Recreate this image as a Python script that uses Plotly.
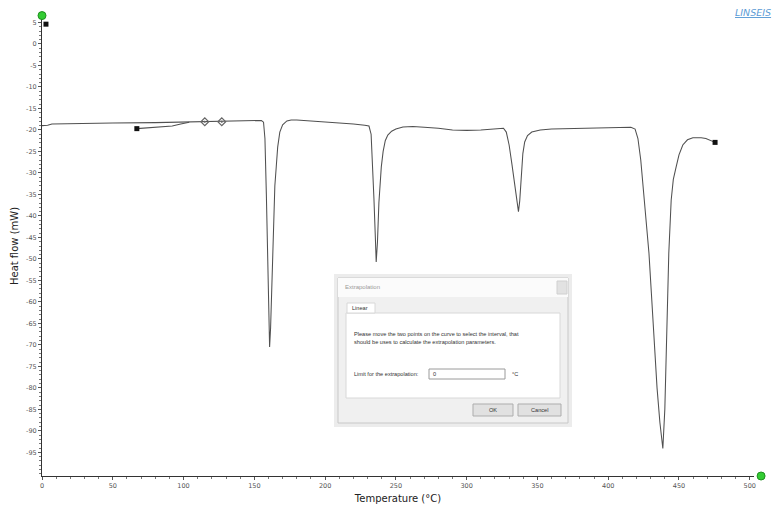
import plotly.graph_objects as go

# ---------------- data ----------------
temp = [0, 4, 7, 20, 50, 80, 100, 115, 127, 140, 155, 156.5, 157.5, 158.5, 159.5, 160.3, 160.8,
        161.5, 162.5, 163.5, 164.5, 165.5, 166.5, 168, 170, 173, 176, 180, 190, 200, 210, 220,
        228, 231, 232.5, 233.5, 234.5, 235.5, 236.1, 237, 238, 239.7, 241, 242.5, 244.3, 247,
        250, 255, 262, 270, 280, 290, 300, 310, 318, 324, 326, 328, 330, 332, 334, 335.5, 336.6,
        337.5, 338.5, 339.7, 341, 343, 346, 352, 360, 380, 400, 410, 416, 419, 421, 423, 424.4,
        426.5, 428.8, 430.5, 432.6, 434.5, 436.5, 438.6, 440, 441, 442, 442.8, 444.5, 446, 448,
        450, 452.7, 456, 459.8, 465.7, 469, 472, 475.5]
heat_flow = [-19.0, -18.9, -18.6, -18.5, -18.4, -18.3, -18.2, -18.1, -18.0, -17.9, -17.8, -18.2,
             -22, -35, -52, -65, -70.5, -66, -55, -42, -33, -28.5, -24, -20.5, -18.8, -17.9,
             -17.7, -17.7, -17.9, -18.1, -18.3, -18.6, -18.9, -19.1, -21, -27, -36, -45, -50.7,
             -46, -37, -28.6, -25, -22.5, -21.2, -20.3, -19.8, -19.3, -19.2, -19.4, -19.6, -20.0,
             -20.1, -20.0, -19.8, -19.5, -19.6, -20.5, -23.5, -28, -33, -37, -39.0, -36.5, -31,
             -25.5, -22.8, -21.3, -20.5, -20.0, -19.8, -19.7, -19.5, -19.4, -19.4, -19.8, -22,
             -27, -32.4, -40, -48.7, -58, -71.2, -80, -88, -94.1, -85, -72, -60, -48.7, -36.3,
             -31.5, -28.6, -25.8, -23.5, -22.3, -21.8, -21.8, -22.0, -22.4, -22.9]

extrap_temp = [67, 80, 92, 98, 104]
extrap_hf = [-19.7, -19.4, -19.1, -18.6, -18.2]

handle_temp = [115, 127]
handle_hf = [-18.1, -18.1]

square_temp = [2.8, 67, 475.5]
square_hf = [4.6, -19.7, -22.9]

green_temp = [0, 508]
green_hf = [6.6, -100.5]

x_ticks = [0, 50, 100, 150, 200, 250, 300, 350, 400, 450, 500]
y_ticks = list(range(5, -100, -5))

# ---------------- layout geometry (screen pixels; page body has an 8px offset) ----------------
OFF = 8
W, H = 782 - OFF, 508 - OFF
L, R, T, B = 42, 754, 16, 476          # plot area on screen
X_RANGE = [0, 503]
Y_RANGE = [-100.5, 6.5]


def px(x):
    return (x - OFF) / W


def py(y):
    return 1 - (y - OFF) / H


sx = (R - L) / (X_RANGE[1] - X_RANGE[0])
sy = (B - T) / (Y_RANGE[1] - Y_RANGE[0])
X2_RANGE = [X_RANGE[0] - (L - OFF) / sx, X_RANGE[1] + (OFF + W - R) / sx]
Y2_RANGE = [Y_RANGE[0] - (OFF + H - B) / sy, Y_RANGE[1] + (T - OFF) / sy]

fig = go.Figure()
fig.add_trace(go.Scatter(x=temp, y=heat_flow, mode="lines",
                         line=dict(color="#505050", width=1.05), showlegend=False))
fig.add_trace(go.Scatter(x=extrap_temp, y=extrap_hf, mode="lines",
                         line=dict(color="#505050", width=1.05), showlegend=False))
fig.add_trace(go.Scatter(x=handle_temp, y=handle_hf, mode="markers",
                         marker=dict(symbol="diamond-open-dot", size=6, color="#666",
                                     line=dict(width=1.2)), showlegend=False))
fig.add_trace(go.Scatter(x=square_temp, y=square_hf, mode="markers",
                         marker=dict(symbol="square", size=5, color="#111"), showlegend=False))
fig.add_trace(go.Scatter(x=green_temp, y=green_hf, mode="markers", xaxis="x2", yaxis="y2",
                         marker=dict(symbol="circle", size=8, color="#33cc33",
                                     line=dict(color="#1f8f1f", width=1)),
                         showlegend=False))

shapes = []
annos = []


def rect(x0, y0, x1, y1, fill, line="#b0b0b0", lw=1):
    shapes.append(dict(type="rect", xref="paper", yref="paper",
                       x0=px(x0), x1=px(x1), y0=py(y1), y1=py(y0),
                       fillcolor=fill, line=dict(color=line, width=lw), layer="above"))


def text(x, y, s, size=5.6, color="#333", anchor="left"):
    annos.append(dict(xref="paper", yref="paper", x=px(x), y=py(y), text=s,
                      showarrow=False, xanchor=anchor, yanchor="middle",
                      font=dict(family="Liberation Sans", size=size, color=color)))


# dialog shadow + body
rect(334, 274, 572, 427, "rgba(200,200,200,0.35)", line="rgba(0,0,0,0)", lw=0)
rect(338, 278, 568, 423, "#f0f0f0", line="#c8c8c8")
rect(338, 278, 568, 297, "#fbfbfb", line="rgba(0,0,0,0)", lw=0)
rect(557, 281, 567, 294, "#e2e2e2", line="#d0d0d0")
text(343, 287, "Extrapolation", size=6, color="#9a9a9a")
# tab + panel
rect(346, 313, 560, 398, "#ffffff", line="#d8d8d8")
rect(347, 303, 375, 313, "#ffffff", line="#d8d8d8")
text(350, 308, "Linear", size=5.6, color="#333")
text(352, 334, "Please move the two points on the curve to select the interval, that")
text(352, 342, "should be uses to calculate the extrapolation parameters.")
text(352, 374, "Limit for the extrapolation:")
rect(429, 369, 505, 379, "#ffffff", line="#9a9a9a")
text(431, 374, "0")
text(510, 374, "°C")
rect(473, 404, 513, 416, "#e1e1e1", line="#adadad")
rect(518, 404, 561, 416, "#e1e1e1", line="#adadad")
text(493, 410, "OK", anchor="center")
text(539.5, 410, "Cancel", anchor="center")

# logo (clipped by the right window edge, as in the reference)
annos.append(dict(xref="paper", yref="paper", x=px(733), y=py(12), text="<u><i>LINSEIS</i></u>",
                  showarrow=False, xanchor="left", yanchor="middle",
                  font=dict(family="DejaVu Sans", size=9.5, color="#5b9bd5")))

axis_common = dict(showline=True, linecolor="#333", linewidth=1, showgrid=False, zeroline=False,
                   ticks="outside", ticklen=3, tickcolor="#555", automargin=False,
                   tickfont=dict(family="DejaVu Sans", size=6.5, color="#555"))

fig.update_layout(
    width=W, height=H,
    margin=dict(l=0, r=0, t=0, b=0, pad=0, autoexpand=False),
    paper_bgcolor="white", plot_bgcolor="rgba(0,0,0,0)",
    shapes=shapes, annotations=annos,
    xaxis=dict(range=X_RANGE, domain=[px(L), px(R)],
               tickvals=x_ticks, ticktext=[str(v) for v in x_ticks],
               minor=dict(dtick=10, ticks="outside", ticklen=2, tickcolor="#777"),
               title=dict(text="Temperature (°C)", standoff=6,
                          font=dict(family="DejaVu Sans", size=10, color="#222")),
               **axis_common),
    yaxis=dict(range=Y_RANGE, domain=[py(B), py(T)],
               tickvals=y_ticks, ticktext=[str(v) for v in y_ticks],
               minor=dict(dtick=1, ticks="outside", ticklen=2, tickcolor="#777"),
               title=dict(text="Heat flow (mW)", standoff=5,
                          font=dict(family="DejaVu Sans", size=10, color="#222")),
               **axis_common),
    xaxis2=dict(range=X2_RANGE, domain=[0, 1], anchor="y2", visible=False, fixedrange=True),
    yaxis2=dict(range=Y2_RANGE, domain=[0, 1], anchor="x2", visible=False, fixedrange=True),
)

fig.write_html("out.html")
